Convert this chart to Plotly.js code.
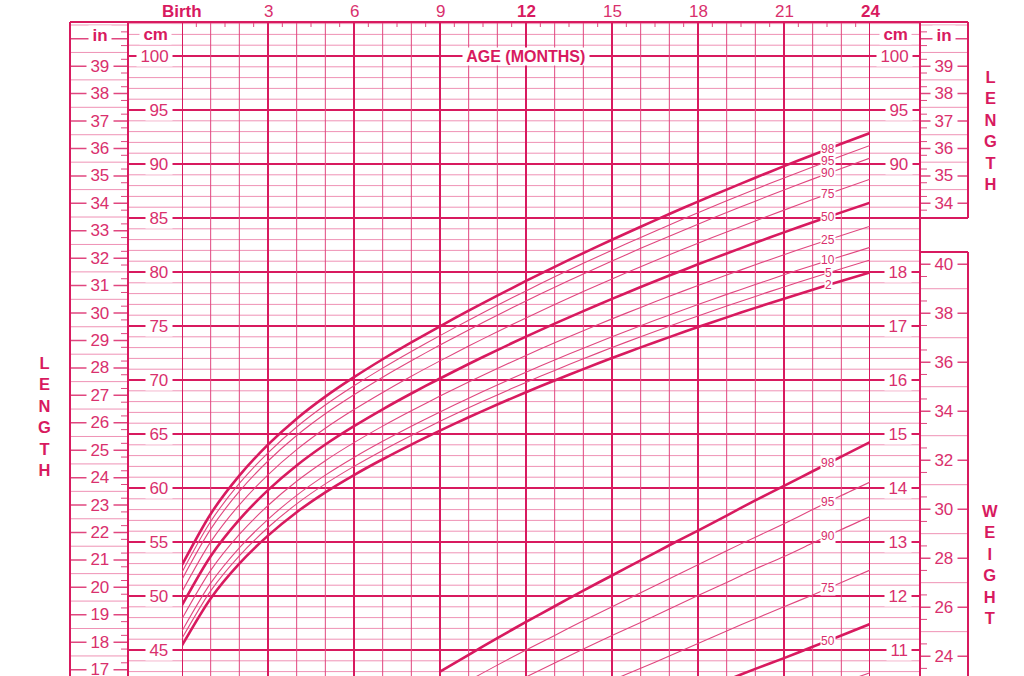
<!DOCTYPE html>
<html><head><meta charset="utf-8">
<script src="https://cdn.plot.ly/plotly-3.0.1.min.js"></script>
<style>html,body{margin:0;padding:0;background:#fff;}#chart{width:1024px;height:676px;}</style>
</head><body><div id="chart"></div>
<script>
// ---------- DATA ----------
const months = [0,1,2,3,4,5,6,7,8,9,10,11,12,13,14,15,16,17,18,19,20,21,22,23,24];
const lengthP2  = [45.42,49.78,53.00,55.59,57.76,59.60,61.20,62.66,64.02,65.31,66.55,67.73,68.87,69.96,71.01,72.03,73.02,73.97,74.90,75.80,76.68,77.53,78.36,79.17,79.96];
const lengthP5  = [46.08,50.48,53.72,56.34,58.53,60.38,62.00,63.48,64.86,66.17,67.42,68.62,69.78,70.89,71.97,73.00,74.01,74.98,75.93,76.85,77.74,78.62,79.47,80.30,81.11];
const lengthP10 = [46.76,51.19,54.46,57.10,59.32,61.19,62.83,64.32,65.72,67.04,68.32,69.54,70.72,71.85,72.94,74.00,75.03,76.02,76.99,77.93,78.84,79.74,80.61,81.45,82.28];
const lengthP25 = [47.89,52.37,55.70,58.38,60.63,62.53,64.20,65.73,67.15,68.51,69.82,71.07,72.28,73.45,74.57,75.66,76.72,77.75,78.75,79.72,80.67,81.60,82.50,83.38,84.24];
const lengthP50 = [49.15,53.69,57.07,59.80,62.09,64.03,65.73,67.29,68.75,70.14,71.48,72.77,74.02,75.22,76.38,77.51,78.61,79.67,80.71,81.72,82.70,83.67,84.60,85.52,86.42];
const lengthP75 = [50.40,55.01,58.44,61.22,63.55,65.53,67.26,68.85,70.35,71.77,73.14,74.47,75.75,76.99,78.19,79.36,80.49,81.59,82.67,83.71,84.73,85.73,86.71,87.66,88.59];
const lengthP90 = [51.54,56.19,59.68,62.50,64.86,66.87,68.63,70.26,71.78,73.24,74.64,76.00,77.32,78.59,79.82,81.02,82.19,83.32,84.43,85.51,86.56,87.60,88.60,89.59,90.55];
const lengthP95 = [52.21,56.90,60.42,63.26,65.65,67.68,69.46,71.10,72.64,74.11,75.54,76.92,78.25,79.55,80.80,82.02,83.20,84.36,85.49,86.59,87.66,88.71,89.73,90.74,91.72];
const lengthP98 = [52.87,57.60,61.14,64.01,66.42,68.46,70.26,71.92,73.48,74.97,76.42,77.81,79.17,80.48,81.75,82.99,84.19,85.37,86.52,87.63,88.73,89.80,90.84,91.87,92.87];

const weightMonths = [9,10,11,12,13,14,15,16,17,18,19,20,21,22,23,24];
const weightP25 = [7.58,7.81,8.04,8.25,8.45,8.65,8.85,9.04,9.23,9.43,9.62,9.81,10.00,10.19,10.39,10.58];
const weightP50 = [8.23,8.48,8.72,8.95,9.17,9.39,9.60,9.81,10.02,10.23,10.44,10.65,10.85,11.06,11.27,11.48];
const weightP75 = [8.95,9.22,9.48,9.73,9.97,10.21,10.44,10.66,10.89,11.12,11.35,11.58,11.80,12.02,12.25,12.48];
const weightP90 = [9.66,9.95,10.23,10.50,10.76,11.02,11.27,11.51,11.76,12.01,12.25,12.50,12.73,12.98,13.23,13.47];
const weightP95 = [10.12,10.43,10.72,11.00,11.27,11.54,11.80,12.06,12.32,12.58,12.84,13.09,13.34,13.60,13.86,14.11];
const weightP98 = [10.60,10.91,11.22,11.52,11.81,12.10,12.38,12.66,12.94,13.21,13.49,13.77,14.04,14.31,14.58,14.85];

const lengthLabels = ['98','95','90','75','50','25','10','5','2'];
const weightLabels = ['98','95','90','75','50','25'];

const monthTickVals = [0,3,6,9,12,15,18,21,24];
const monthTickText = ['Birth','3','6','9','12','15','18','21','24'];
const monthTickBold = [true,false,false,false,true,false,false,false,true];
const cmTicksLeft = [45,50,55,60,65,70,75,80,85,90,95,100];
const cmTicksRight = [90,95,100];
const kgTicks = [11,12,13,14,15,16,17,18];
const inTicksLeft = [17,18,19,20,21,22,23,24,25,26,27,28,29,30,31,32,33,34,35,36,37,38,39];
const inTicksRight = [34,35,36,37,38,39];
const lbTicks = [24,26,28,30,32,34,36,38,40];

// ---------- GEOMETRY / STYLE ----------
const L = 182, R = 870, T = 22, B = 676;
const PXCM = 10.8, Y100 = 56;
const yRange = [100 - (B - Y100) / PXCM, 100 + (Y100 - T) / PXCM];
const y2Range = [(yRange[0] + 10) / 5, (yRange[1] + 10) / 5];
const CM_PER_IN = 2.54, KG_PER_LB = 0.45359237;
const FONT = 'Liberation Sans, Arial, Helvetica, sans-serif';
const C_DARK = '#d81a5f', C_TEXT = '#d9306d', C_MED = '#e0477f', C_THIN = '#ef92b5';
const px = p => (p - L) / (R - L);
const pyPaper = p => 1 - (p - T) / (B - T);

// ---------- TRACES ----------
const traces = [];
const lenSeries = [lengthP98,lengthP95,lengthP90,lengthP75,lengthP50,lengthP25,lengthP10,lengthP5,lengthP2];
const wSeries = [weightP98,weightP95,weightP90,weightP75,weightP50,weightP25];
const heavy = l => (l === '98' || l === '50' || l === '2');
lenSeries.forEach((s, i) => {
  const h = heavy(lengthLabels[i]);
  traces.push({x: months, y: s, mode: 'lines', hoverinfo: 'skip',
    line: {color: h ? C_DARK : C_MED, width: h ? 2.6 : 1.1, shape: 'spline', smoothing: 0.8}});
});
wSeries.forEach((s, i) => {
  const h = heavy(weightLabels[i]);
  traces.push({x: weightMonths, y: s, yaxis: 'y2', mode: 'lines', hoverinfo: 'skip',
    line: {color: h ? C_DARK : C_MED, width: h ? 2.6 : 1.1, shape: 'spline', smoothing: 0.8}});
});

// ---------- SHAPES ----------
const shapes = [];
function hl(y, x0p, x1p, color, w, yref) {
  shapes.push({type: 'line', layer: 'below', xref: 'paper', yref: yref || 'y', x0: px(x0p), x1: px(x1p), y0: y, y1: y, line: {color: color, width: w}});
}
function vlPaper(xp, y0, y1, color, w) {
  shapes.push({type: 'line', layer: 'below', xref: 'paper', yref: 'paper', x0: px(xp), x1: px(xp), y0: y0, y1: y1, line: {color: color, width: w}});
}
// cm grid (extends through both cm columns)
for (let c = Math.ceil(yRange[0]); c <= Math.floor(yRange[1]); c++) {
  if (c % 5 === 0) hl(c, 128, 920, C_DARK, 2);
  else hl(c, 128, 920, C_THIN, 1);
}
// month verticals
for (let m = 0; m <= 24; m++) {
  const q = m % 3 === 0;
  shapes.push({type: 'line', layer: 'below', xref: 'x', yref: 'paper', x0: m, x1: m, y0: 0, y1: 1,
    line: {color: q ? C_DARK : C_MED, width: q ? 2 : 1}});
}
// half-month ticks at top
for (let m = 0.5; m < 24; m += 1) {
  shapes.push({type: 'line', layer: 'below', xref: 'x', yref: 'paper', x0: m, x1: m, y0: 1, y1: pyPaper(T + 5),
    line: {color: C_MED, width: 1}});
}
// left inch column
for (let n = 16; n <= 40; n++) {
  hl(n * CM_PER_IN, 70, 128, C_MED, 1.5);
  hl((n + 0.5) * CM_PER_IN, 70, 128, C_THIN, 1);
  hl((n + 0.25) * CM_PER_IN, 121, 128, C_MED, 1);
  hl((n + 0.75) * CM_PER_IN, 121, 128, C_MED, 1);
}
// right inch column (top box, down to 85 cm)
for (let n = 34; n <= 40; n++) {
  hl(n * CM_PER_IN, 920, 968, C_MED, 1.5);
  if ((n + 0.5) * CM_PER_IN < yRange[1]) hl((n + 0.5) * CM_PER_IN, 920, 968, C_THIN, 1);
  hl((n + 0.25) * CM_PER_IN, 920, 927, C_MED, 1);
  if (n < 40) hl((n + 0.75) * CM_PER_IN, 920, 927, C_MED, 1);
}
hl(33.75 * CM_PER_IN, 920, 927, C_MED, 1);
hl(85, 920, 968, C_DARK, 2);
// lb column (bottom box)
const lbTop = 40.5;
for (let lb = 23; lb <= 40; lb++) {
  const kg = lb * KG_PER_LB;
  if (lb % 2 === 0) hl(kg, 920, 968, C_MED, 1.5, 'y2');
  else hl(kg, 920, 968, C_THIN, 1, 'y2');
  if (lb + 0.5 < lbTop) hl((lb + 0.5) * KG_PER_LB, 920, 927, C_MED, 1, 'y2');
}
hl(lbTop * KG_PER_LB, 920, 968, C_DARK, 2, 'y2');
// frame
shapes.push({type: 'line', layer: 'below', xref: 'paper', yref: 'paper', x0: px(70), x1: px(968), y0: 1, y1: 1, line: {color: C_DARK, width: 2}});
vlPaper(70, 0, 1, C_DARK, 2);
vlPaper(128, 0, 1, C_DARK, 2);
vlPaper(920, 0, 1, C_DARK, 2);
shapes.push({type: 'line', layer: 'below', xref: 'paper', yref: 'paper', x0: px(968), x1: px(968), y0: pyPaper(56 + (100 - 85) * PXCM), y1: 1, line: {color: C_DARK, width: 2}});
shapes.push({type: 'line', layer: 'below', xref: 'paper', yref: 'y2', x0: px(968), x1: px(968), y0: y2Range[0], y1: lbTop * KG_PER_LB, line: {color: C_DARK, width: 2}});

// ---------- ANNOTATIONS ----------
const ann = [];
const TS = '\u2009';
function txt(o, size, color, bold) {
  ann.push(Object.assign({showarrow: false, xanchor: 'center', font: {family: FONT, size: size || 17, color: color || C_TEXT, weight: bold ? 'bold' : 'normal'}}, o));
}
// month labels on top
monthTickVals.forEach((m, i) => {
  txt({xref: 'x', x: m, yref: 'paper', y: 1, yanchor: 'middle', yshift: 11, text: monthTickText[i]},
    17, monthTickBold[i] ? C_DARK : C_TEXT, monthTickBold[i]);
});
txt({xref: 'paper', x: px(943), yref: 'y', y: 41 * CM_PER_IN, yanchor: 'middle', yshift: -2, text: '41'}, 17, C_TEXT, false);
// cm labels
cmTicksLeft.forEach(v => txt({xref: 'paper', x: px(172.5), xanchor: 'right', yref: 'y', y: v, yanchor: 'middle',
  text: TS + v + TS, bgcolor: '#ffffff', borderpad: 0}));
cmTicksRight.forEach(v => txt({xref: 'paper', x: px(913), xanchor: 'right', yref: 'y', y: v, yanchor: 'middle',
  text: TS + v + TS, bgcolor: '#ffffff', borderpad: 0}));
kgTicks.forEach(v => txt({xref: 'paper', x: px(912), xanchor: 'right', yref: 'y2', y: v, yanchor: 'middle',
  text: TS + v + TS, bgcolor: '#ffffff', borderpad: 0}));
// unit headers
txt({xref: 'paper', x: px(172), xanchor: 'right', yref: 'y', y: 102, yanchor: 'middle', text: TS + 'cm' + TS, bgcolor: '#ffffff', borderpad: 0}, 17, C_DARK, true);
txt({xref: 'paper', x: px(912), xanchor: 'right', yref: 'y', y: 102, yanchor: 'middle', text: TS + 'cm' + TS, bgcolor: '#ffffff', borderpad: 0}, 17, C_DARK, true);
txt({xref: 'paper', x: px(100), yref: 'y', y: 40 * CM_PER_IN, yanchor: 'middle', yshift: 3, text: TS + 'in' + TS, bgcolor: '#ffffff', borderpad: 0}, 17, C_DARK, true);
txt({xref: 'paper', x: px(944), yref: 'y', y: 40 * CM_PER_IN, yanchor: 'middle', yshift: 3, text: TS + 'in' + TS, bgcolor: '#ffffff', borderpad: 0}, 17, C_DARK, true);
// inch labels
inTicksLeft.forEach(v => txt({xref: 'paper', x: px(100), yref: 'y', y: v * CM_PER_IN, yanchor: 'middle',
  text: TS + v + TS, bgcolor: '#ffffff', borderpad: 0}));
inTicksRight.forEach(v => txt({xref: 'paper', x: px(944), yref: 'y', y: v * CM_PER_IN, yanchor: 'middle',
  text: TS + v + TS, bgcolor: '#ffffff', borderpad: 0}));
lbTicks.forEach(v => txt({xref: 'paper', x: px(944), yref: 'y2', y: v * KG_PER_LB, yanchor: 'middle',
  text: TS + v + TS, bgcolor: '#ffffff', borderpad: 0}));
// axis title
txt({xref: 'x', x: 12, yref: 'y', y: 100, yanchor: 'middle', text: TS + 'AGE (MONTHS)' + TS, bgcolor: '#ffffff', borderpad: 0}, 16, C_DARK, true);
// side titles
txt({xref: 'paper', x: px(44), yref: 'paper', y: pyPaper(416), yanchor: 'middle', text: 'L<br>E<br>N<br>G<br>T<br>H'}, 16.5, C_DARK, true);
txt({xref: 'paper', x: px(990), yref: 'paper', y: pyPaper(131), yanchor: 'middle', text: 'L<br>E<br>N<br>G<br>T<br>H'}, 16.5, C_DARK, true);
txt({xref: 'paper', x: px(990), yref: 'paper', y: pyPaper(564), yanchor: 'middle', text: 'W<br>E<br>I<br>G<br>H<br>T'}, 16.5, C_DARK, true);
// percentile labels
function interp(xs, ys, x) {
  for (let i = 0; i < xs.length - 1; i++) {
    if (x >= xs[i] && x <= xs[i + 1]) return ys[i] + (ys[i + 1] - ys[i]) * (x - xs[i]) / (xs[i + 1] - xs[i]);
  }
  return ys[ys.length - 1];
}
const LBLX = 22.55;
lenSeries.forEach((s, i) => txt({xref: 'x', x: LBLX, yref: 'y', y: interp(months, s, LBLX), yanchor: 'middle',
  text: lengthLabels[i], bgcolor: '#ffffff', borderpad: 0}, 12, C_TEXT, false));
wSeries.forEach((s, i) => txt({xref: 'x', x: LBLX, yref: 'y2', y: interp(weightMonths, s, LBLX), yanchor: 'middle',
  text: weightLabels[i], bgcolor: '#ffffff', borderpad: 0}, 12, C_TEXT, false));

// ---------- LAYOUT ----------
const layout = {
  width: 1024, height: 676,
  margin: {l: L, r: 1024 - R, t: T, b: 0, pad: 0},
  paper_bgcolor: '#ffffff', plot_bgcolor: '#ffffff',
  showlegend: false,
  xaxis: {range: [0, 24], visible: false, fixedrange: true},
  yaxis: {range: yRange, visible: false, fixedrange: true},
  yaxis2: {range: y2Range, visible: false, overlaying: 'y', fixedrange: true},
  shapes: shapes,
  annotations: ann
};
Plotly.newPlot('chart', traces, layout, {staticPlot: true, displayModeBar: false});
</script>
</body></html>
